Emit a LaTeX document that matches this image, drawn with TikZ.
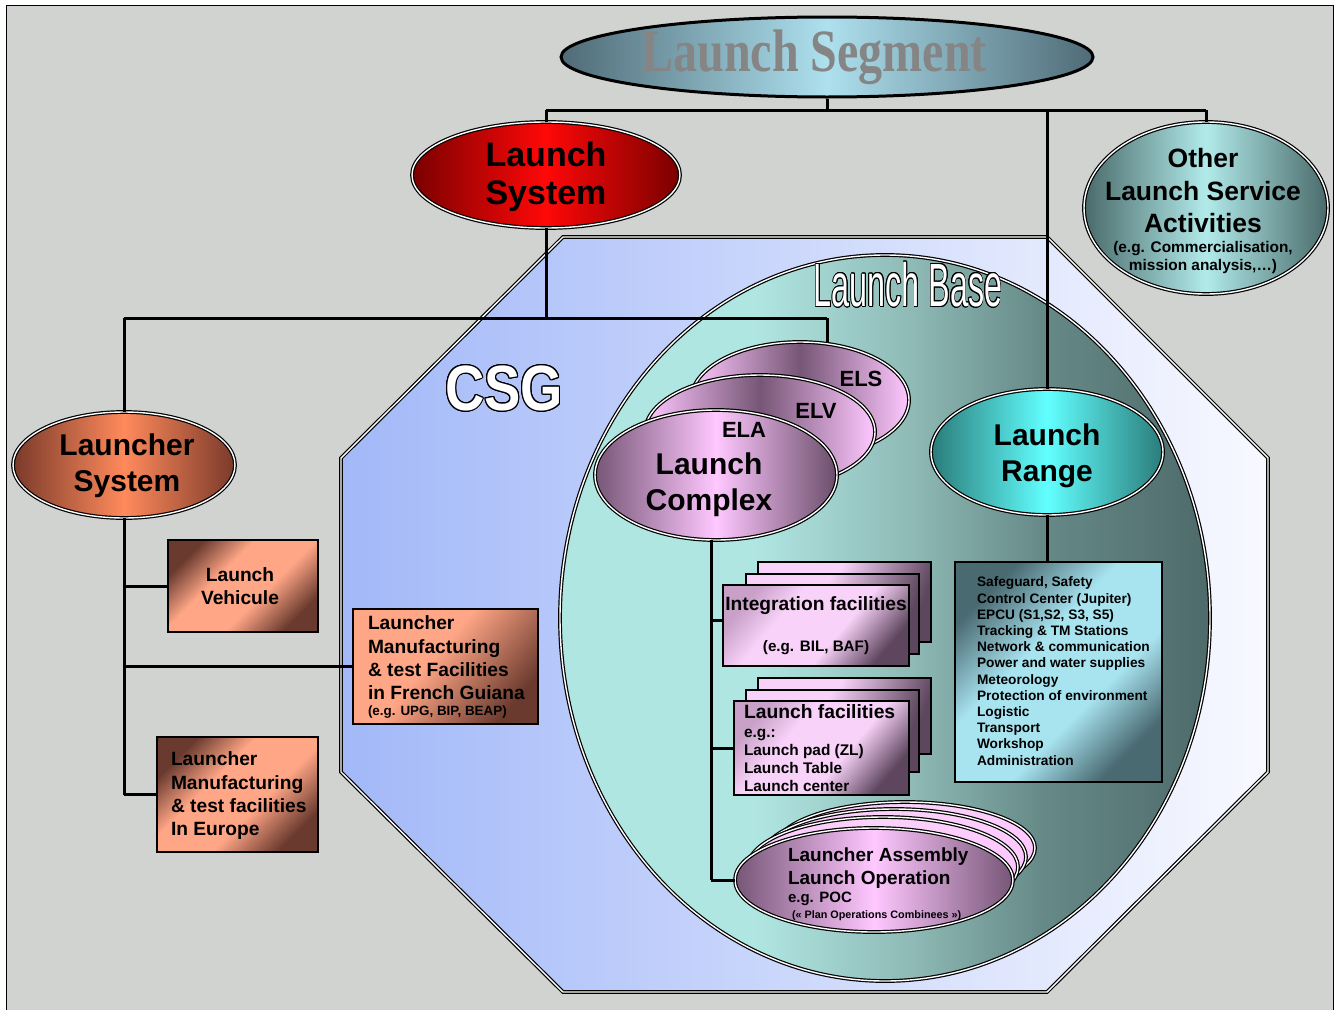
\documentclass[tikz,border=0pt]{standalone}
\usepackage{fontspec}
\setmainfont{Liberation Sans}
\newfontfamily\titlefont{Liberation Serif}
\usepackage{graphicx}
\usepackage{contour}
\contourlength{1.2pt}
\usetikzlibrary{shapes.geometric}

\definecolor{bgc}{HTML}{D1D3D1}
\definecolor{segdark}{HTML}{4F6B77}
\definecolor{seglight}{HTML}{AEE0EE}
\definecolor{lsdark}{HTML}{7A0000}
\definecolor{lslight}{HTML}{FF0808}
\definecolor{lcdark}{HTML}{7A3A2A}
\definecolor{lclight}{HTML}{FF8A5C}
\definecolor{salmon}{HTML}{FFA686}
\definecolor{brownd}{HTML}{6A3A2E}
\definecolor{csgl}{HTML}{A2B8F8}
\definecolor{csgr}{HTML}{F8F9FF}
\definecolor{basel}{HTML}{B0E6E2}
\definecolor{basem}{HTML}{8FBAB6}
\definecolor{baseq}{HTML}{668A88}
\definecolor{baser}{HTML}{4E6A6A}
\definecolor{mauved}{HTML}{765676}
\definecolor{pinkl}{HTML}{FFC8FF}
\definecolor{boxpink}{HTML}{F8D2F8}
\definecolor{mauvel}{HTML}{C8A0C8}
\definecolor{mauvedk}{HTML}{5E465E}
\definecolor{rangedark}{HTML}{2A7C7A}
\definecolor{rangelight}{HTML}{62FFFF}
\definecolor{rbdark}{HTML}{4A6A72}
\definecolor{rblight}{HTML}{A8E4F0}
\definecolor{otherdark}{HTML}{4A6A6A}
\definecolor{otherlight}{HTML}{B2EAEA}
\definecolor{titlegray}{HTML}{858585}

\pgfdeclarehorizontalshading{csgsh}{100bp}{color(0bp)=(csgl); color(25bp)=(csgl); color(75bp)=(csgr); color(100bp)=(csgr)}
\pgfdeclarehorizontalshading{basesh}{100bp}{color(0bp)=(basel); color(25bp)=(basel); color(40bp)=(basel); color(52bp)=(basem); color(62bp)=(baseq); color(75bp)=(baser); color(100bp)=(baser)}
\pgfdeclarehorizontalshading{coppersh}{100bp}{color(0bp)=(brownd); color(25bp)=(brownd); color(40bp)=(salmon); color(58bp)=(salmon); color(75bp)=(brownd); color(100bp)=(brownd)}
\pgfdeclarehorizontalshading{coppersha}{100bp}{color(0bp)=(salmon); color(25bp)=(salmon); color(45bp)=(salmon); color(75bp)=(brownd); color(100bp)=(brownd)}
\pgfdeclarehorizontalshading{pinkfront}{100bp}{color(0bp)=(mauvel); color(25bp)=(mauvel); color(38bp)=(boxpink); color(58bp)=(boxpink); color(75bp)=(mauvedk); color(100bp)=(mauvedk)}
\pgfdeclarehorizontalshading{pinkback}{100bp}{color(0bp)=(boxpink); color(25bp)=(boxpink); color(45bp)=(boxpink); color(75bp)=(mauvedk); color(100bp)=(mauvedk)}
\pgfdeclarehorizontalshading{rangesh}{100bp}{color(0bp)=(rbdark); color(25bp)=(rbdark); color(42bp)=(rblight); color(60bp)=(rblight); color(75bp)=(rbdark); color(100bp)=(rbdark)}

\tikzset{
  conn/.style={line width=3pt, draw=black},
  dbl/.style={draw=black, line width=1.2pt, double=white, double distance=1.4pt},
  ell/.style={shape=ellipse, inner sep=0pt, outer sep=0pt, dbl},
  boxs/.style={shape=rectangle, draw=black, line width=1.8pt, inner sep=0pt, outer sep=0pt},
  txt/.style={inner sep=0pt, outer sep=0pt, align=center},
  ltxt/.style={inner sep=0pt, outer sep=0pt, align=left},
  big/.style={font=\fontsize{34}{38}\selectfont\bfseries},
  mid/.style={font=\fontsize{30}{36}\selectfont\bfseries},
  boxfont/.style={font=\fontsize{19.2}{23.2}\selectfont\bfseries},
}

\begin{document}
\begin{tikzpicture}[x=1pt,y=-1pt]
\useasboundingbox (0,0) rectangle (1338,1009);
\fill[white] (0,0) rectangle (1338,1009);
\draw[fill=bgc, line width=0.8pt] (6,5) rectangle (1333,1015);

% CSG octagon
\shadedraw[shading=csgsh, dbl] (563,237) -- (1047,237) -- (1268,458) -- (1268,772) -- (1047,992) -- (563,992) -- (341,772) -- (341,458) -- cycle;
\node[txt] (csg) at (504,389) {\scalebox{0.85}[1]{\fontsize{64}{64}\selectfont\bfseries\contour{black}{\textcolor{white}{CSG}}}};

% Launch base
\node[ell, shade, shading=basesh, minimum width=650pt, minimum height=726pt] (base) at (885,618) {};
\node[txt] (basetitle) at (908,285) {\scalebox{0.53}[1]{\fontsize{61}{61}\selectfont\contour{black}{\textcolor{white}{Launch Base}}}};

% coordinates for buses
\coordinate (bus1) at (0,110);
\coordinate (bus2) at (0,318);
\coordinate (elsj) at (827,318);
\coordinate (trunk) at (711,0);

% nodes (shapes)
\node[shape=ellipse, draw=black, line width=3pt, left color=segdark, right color=segdark, middle color=seglight, minimum width=532pt, minimum height=80pt, inner sep=0pt] (seg) at (827,57) {};
\node[ell, left color=lsdark, right color=lsdark, middle color=lslight, minimum width=268pt, minimum height=106pt] (lsys) at (546,175) {};
\node[ell, left color=otherdark, right color=otherdark, middle color=otherlight, minimum width=244pt, minimum height=172pt] (other) at (1206,208) {};
\node[ell, left color=lcdark, right color=lcdark, middle color=lclight, minimum width=222pt, minimum height=106pt] (lchsys) at (124,465) {};
\node[ell, left color=rangedark, right color=rangedark, middle color=rangelight, minimum width=232pt, minimum height=126pt] (range) at (1047,452) {};

% connectors
\draw[conn] (seg.south) -- (seg.south |- bus1);
\draw[conn] (lsys.north |- bus1) -- (other.north |- bus1);
\draw[conn] (lsys.north |- bus1) -- (lsys.north);
\draw[conn] (other.north |- bus1) -- (other.north);
\draw[conn] (range.north |- bus1) -- (range.north);
\draw[conn] (lsys.south) -- (lsys.south |- bus2);
\draw[conn] (lchsys.north |- bus2) -- (elsj);
\draw[conn] (lchsys.north |- bus2) -- (lchsys.north);

% boxes left
\node[boxs, shade, shading=coppersh, shading angle=-45, minimum width=150pt, minimum height=92pt] (vehic) at (243,586) {};
\node[boxs, shade, shading=coppersha, shading angle=-40, minimum width=185pt, minimum height=115pt] (guiana) at (445.5,666.5) {};
\node[boxs, shade, shading=coppersh, shading angle=-45, minimum width=161pt, minimum height=115pt] (europe) at (237.5,794.5) {};
\draw[conn] (lchsys.south) -- (lchsys.south |- europe.west);
\draw[conn] (lchsys.south |- vehic.west) -- (vehic.west);
\draw[conn] (lchsys.south |- guiana.west) -- (guiana.west);
\draw[conn] (lchsys.south |- europe.west) -- (europe.west);

% launch complex stack
\node[ell, left color=pinkl, right color=pinkl, middle color=mauved, minimum width=218pt, minimum height=116pt] (els) at (800,400) {};
\draw[conn] (elsj) -- (elsj |- els.north);
\node[ell, left color=pinkl, right color=pinkl, middle color=mauved, minimum width=230pt, minimum height=114pt] (elv) at (760,432) {};
\node[ell, left color=mauved, right color=mauved!90!black, middle color=pinkl, minimum width=242pt, minimum height=130pt] (ela) at (716,475) {};

% range box
\node[boxs, shade, shading=rangesh, shading angle=-45, minimum width=207pt, minimum height=220pt] (rangebox) at (1058.5,672) {};
\draw[conn] (range.south) -- (range.south |- rangebox.north);

% integration facilities stack
\node[boxs, shade, shading=pinkback, shading angle=-20, minimum width=173pt, minimum height=80pt] (intb) at (844.5,602) {};
\node[boxs, shade, shading=pinkback, shading angle=-20, minimum width=173pt, minimum height=80pt] (intm) at (832.5,614) {};
\node[boxs, shade, shading=pinkfront, shading angle=-40, minimum width=186pt, minimum height=81pt] (intf) at (816,625.5) {};

% launch facilities stack
\node[boxs, shade, shading=pinkback, shading angle=-20, minimum width=173pt, minimum height=76pt] (lfacb) at (844.5,716) {};
\node[boxs, shade, shading=pinkback, shading angle=-20, minimum width=173pt, minimum height=82pt] (lfacm) at (832.5,731) {};
\node[boxs, shade, shading=pinkfront, shading angle=-40, minimum width=175pt, minimum height=94pt] (lfac) at (821.5,748) {};

% assembly stack
\node[ell, left color=pinkl, right color=pinkl, middle color=boxpink, minimum width=260pt, minimum height=92pt] (asm3) at (905,848) {};
\node[ell, left color=pinkl, right color=pinkl, middle color=boxpink, minimum width=264pt, minimum height=96pt] (asm2) at (894,857) {};
\node[ell, left color=pinkl, right color=pinkl, middle color=boxpink, minimum width=270pt, minimum height=100pt] (asm1) at (883,867) {};
\node[ell, left color=mauved, right color=mauved, middle color=pinkl, minimum width=278pt, minimum height=104pt] (asm) at (874,880) {};

\coordinate (intj) at (0,620);
\draw[conn] (trunk |- ela.south) -- (trunk |- asm.west);
\draw[conn] (trunk |- intj) -- (intf.west |- intj);
\draw[conn] (trunk |- lfac.west) -- (lfac.west);
\draw[conn] (trunk |- asm.west) -- (asm.west);

% texts
\node[txt] (segtitle) at (814,57) {\scalebox{1}[1.25]{\fontsize{48}{48}\selectfont\titlefont\bfseries\textcolor{titlegray}{Launch Segment}}};
\node[txt, big] (lsyst) at (546,177) {Launch\\System};
\node[txt, font=\fontsize{26.5}{32.5}\selectfont\bfseries] (othert) at (1203,191) {Other\\Launch Service\\Activities};
\node[txt, font=\fontsize{15.4}{18}\selectfont\bfseries] (othern) at (1203,258) {(e.g. Commercialisation,\\mission analysis,…)};
\node[txt, mid] (lchsyst) at (127,466) {Launcher\\System};
\node[txt, mid] (ranget) at (1047,456) {Launch\\Range};
\node[txt, mid] (elat) at (709,485) {Launch\\Complex};
\node[txt, font=\fontsize{22}{22}\selectfont\bfseries] (elsl) at (861,379) {ELS};
\node[txt, font=\fontsize{22}{22}\selectfont\bfseries] (elvl) at (816,411) {ELV};
\node[txt, font=\fontsize{22}{22}\selectfont\bfseries] (elal) at (744,430) {ELA};
\node[txt, boxfont] (vehict) at (240,586) {Launch\\Vehicule};
\node[ltxt, boxfont, anchor=north west] (guianat) at (368,616) {Launcher\\Manufacturing\\\& test Facilities\\in French Guiana\\[-7pt]{\fontsize{13.4}{15}\selectfont (e.g. UPG, BIP, BEAP)}};
\node[ltxt, boxfont, anchor=north west] (europet) at (171,752) {Launcher\\Manufacturing\\\& test facilities\\In Europe};
\node[txt, boxfont] (intt) at (816,606) {Integration facilities};
\node[txt, font=\fontsize{15.2}{18}\selectfont\bfseries] (intn) at (816,648) {(e.g. BIL, BAF)};
\node[ltxt, font=\fontsize{15.4}{18}\selectfont\bfseries, anchor=north west] (lfact) at (744,705) {{\fontsize{19.3}{22}\selectfont Launch facilities}\\[1pt]e.g.:\\Launch pad (ZL)\\Launch Table\\Launch center};
\node[ltxt, font=\fontsize{13.7}{16.2}\selectfont\bfseries, anchor=north west] (rangeboxt) at (977,577) {Safeguard, Safety\\Control Center (Jupiter)\\EPCU (S1,S2, S3, S5)\\Tracking \& TM Stations\\Network \& communication\\Power and water supplies\\Meteorology\\Protection of environment\\Logistic\\Transport\\Workshop\\Administration};
\node[ltxt, font=\fontsize{19}{23}\selectfont\bfseries, anchor=north west] (asmt) at (788,848) {Launcher Assembly\\Launch Operation\\[-5pt]{\fontsize{15}{18}\selectfont e.g. POC}\\[-7pt]{\fontsize{10.8}{12}\selectfont\hspace{4pt}(« Plan Operations Combinees »)}};
\end{tikzpicture}
\end{document}
